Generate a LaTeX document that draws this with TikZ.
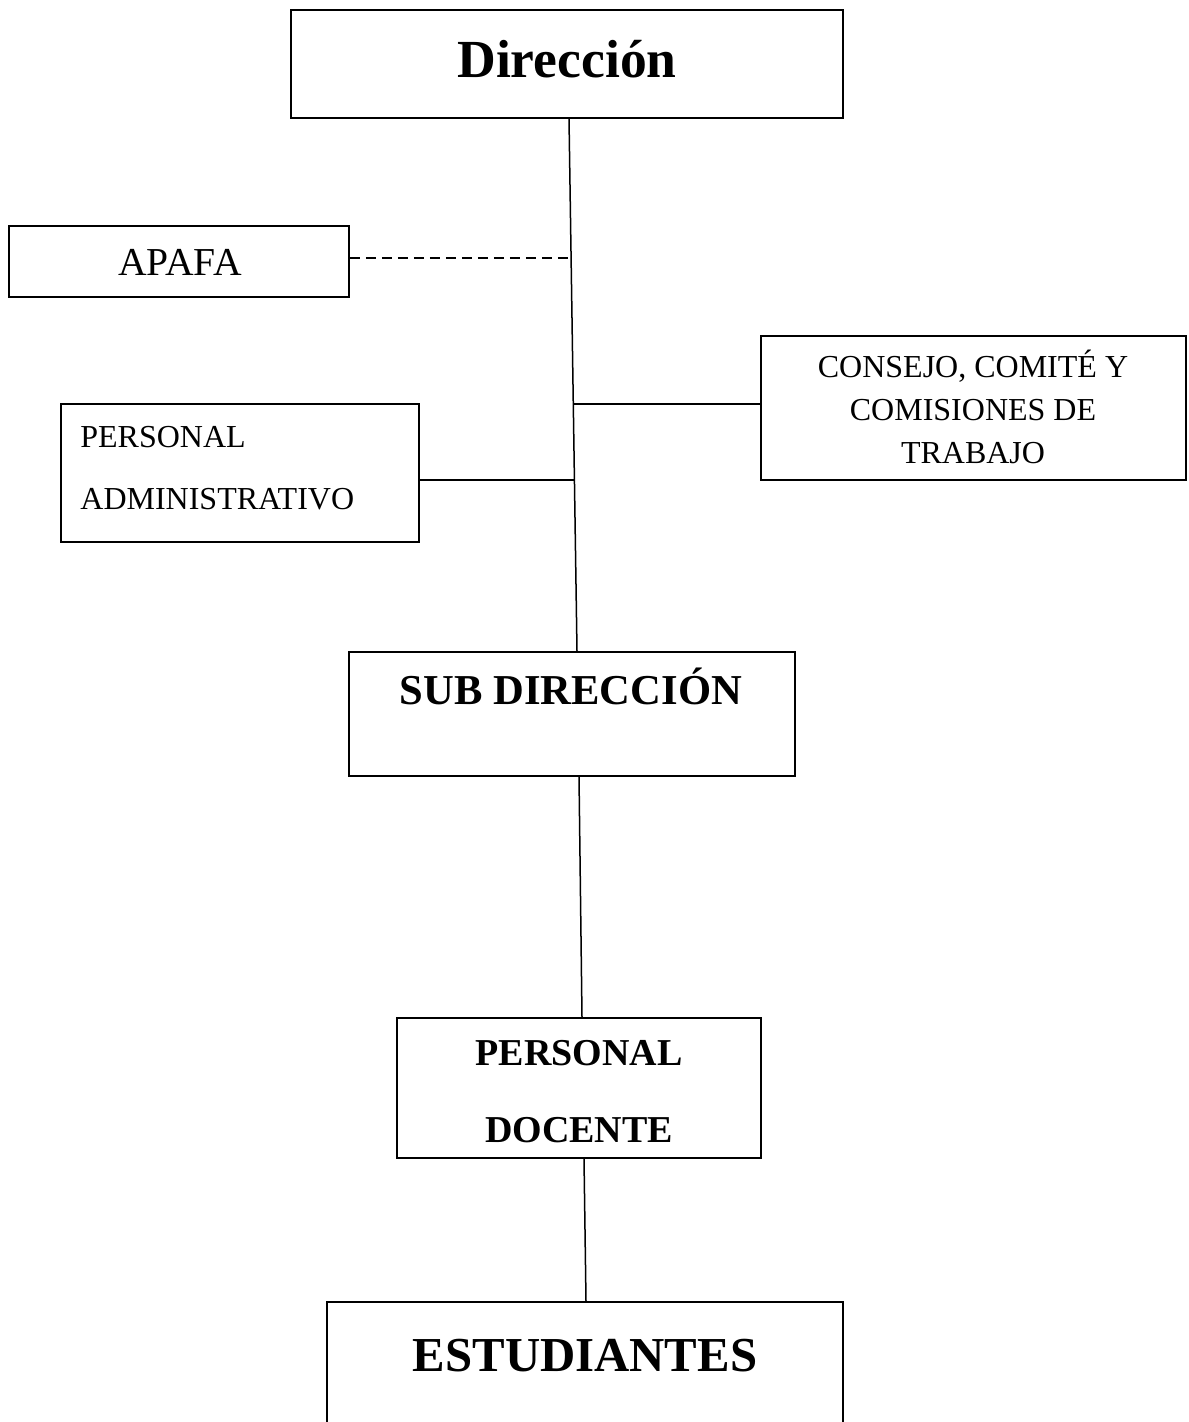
\documentclass[tikz,border=0pt]{standalone}
\usepackage{fontspec}
\setmainfont{Liberation Serif}
\usetikzlibrary{calc}
\begin{document}
\begin{tikzpicture}
        [x=0.5pt,y=-0.5pt,
        boxdecorate/.style={shape=rectangle,draw,line width=0.75pt,inner sep=0pt},%
        linedecorate/.style={-,line width=0.75pt},%
        labeldecorate/.style={anchor=base,inner sep=0pt}]
        \useasboundingbox (0,0) rectangle (1188,1422);
        \clip (0,0) rectangle (1188,1422);
        %% boxes

        \foreach \nodename/\x/\y/\w/\h in {dir/567/64/552/108, apafa/179/261.5/340/71,
          consejo/973.5/408/425/144, admin/240/473/358/138, sub/572/714/446/124,
          docente/579/1088/364/140, est/585/1382/516/160}
        {
          \node (\nodename) at (\x,\y) [boxdecorate,minimum width=\w*0.5pt,minimum height=\h*0.5pt] {};
        }
        %% labels
        \node (dirlabel) at (567,78) [labeldecorate,font=\bfseries\fontsize{26.8}{30}\selectfont] {Dirección};
        \node (apafalabel) at (180,276) [labeldecorate,font=\fontsize{19.8}{22}\selectfont] {APAFA};
        \node (consejolabela) at (973,378) [labeldecorate,font=\fontsize{16}{19}\selectfont] {CONSEJO, COMITÉ Y};
        \node (consejolabelb) at (973,421) [labeldecorate,font=\fontsize{16}{19}\selectfont] {COMISIONES DE};
        \node (consejolabelc) at (973,463) [labeldecorate,font=\fontsize{16}{19}\selectfont] {TRABAJO};
        \node (adminlabela) at (80,447) [labeldecorate,anchor=base west,font=\fontsize{16}{19}\selectfont] {PERSONAL};
        \node (adminlabelb) at (80,509) [labeldecorate,anchor=base west,font=\fontsize{16}{19}\selectfont] {ADMINISTRATIVO};
        \node (sublabel) at (571,704) [labeldecorate,font=\bfseries\fontsize{21.3}{25}\selectfont] {SUB DIRECCIÓN};
        \node (docentelabela) at (579,1065) [labeldecorate,font=\bfseries\fontsize{19}{22}\selectfont] {PERSONAL};
        \node (docentelabelb) at (579,1142) [labeldecorate,font=\bfseries\fontsize{19}{22}\selectfont] {DOCENTE};
        \node (estlabel) at (585,1371) [labeldecorate,font=\bfseries\fontsize{24.4}{28}\selectfont] {ESTUDIANTES};
        %% lines
        \draw[linedecorate] ($(dir.south)+(2,0)$) -- coordinate[pos=0.262] (japafa)
          coordinate[pos=0.536] (jconsejo) coordinate[pos=0.678] (jadmin) ($(sub.north)+(5,0)$);
        \draw[linedecorate,line width=1pt,dash pattern=on 5pt off 3pt] (japafa -| apafa.east) -- (japafa);
        \draw[linedecorate] (jconsejo) -- (jconsejo -| consejo.west);
        \draw[linedecorate] (jadmin -| admin.east) -- (jadmin);
        \draw[linedecorate] ($(sub.south)+(7,0)$) -- ($(docente.north)+(3,0)$);
        \draw[linedecorate] ($(docente.south)+(5,0)$) -- ($(est.north)+(1,0)$);
      \end{tikzpicture}
\end{document}
